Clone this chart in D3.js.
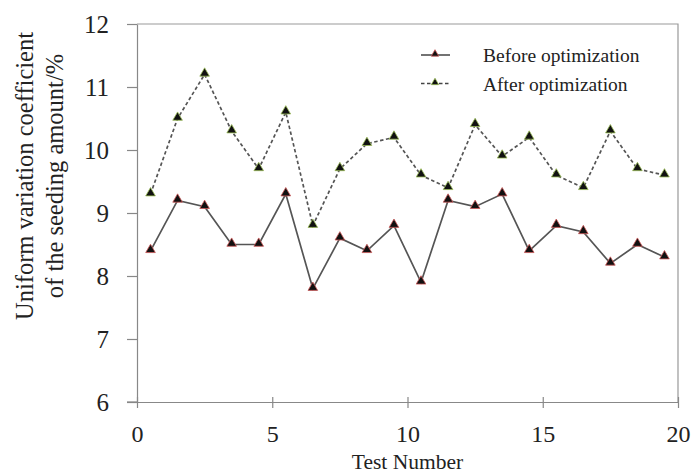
<!DOCTYPE html>
<html lang="en">
  <head>
    <meta charset="utf-8" />
    <script src="https://cdn.jsdelivr.net/npm/d3@7/dist/d3.min.js"></script>
    <style>
      body { margin: 0; background: #fff; }
      text { font-family: "Liberation Serif", "DejaVu Serif", serif; fill: #222; }
    </style>
  </head>
  <body>
    <div id="container"></div>
    <script>
      const testNumber = [0.5, 1.5, 2.5, 3.5, 4.5, 5.5, 6.5, 7.5, 8.5, 9.5, 10.5, 11.5, 12.5, 13.5, 14.5, 15.5, 16.5, 17.5, 18.5, 19.5];
      const before = [8.4, 9.2, 9.1, 8.5, 8.5, 9.3, 7.8, 8.6, 8.4, 8.8, 7.9, 9.2, 9.1, 9.3, 8.4, 8.8, 8.7, 8.2, 8.5, 8.3];
      const after = [9.3, 10.5, 11.2, 10.3, 9.7, 10.6, 8.8, 9.7, 10.1, 10.2, 9.6, 9.4, 10.4, 9.9, 10.2, 9.6, 9.4, 10.3, 9.7, 9.6];
      const xTicks = [0, 5, 10, 15, 20];
      const yTicks = [6, 7, 8, 9, 10, 11, 12];

      const width = 692, height = 474;
      const margin = { left: 137, right: 14, top: 24, bottom: 72 };
      const serif = "Liberation Serif";

      const svg = d3.select("#container").append("svg").attr("width", width).attr("height", height);

      const x = d3.scaleLinear().domain([0, 20]).range([margin.left, width - margin.right]);
      const y = d3.scaleLinear().domain([6, 12]).range([height - margin.bottom, margin.top]);

      // frame (top and right)
      svg.append("path")
        .attr("d", `M${x(0)},${y(12)}H${x(20)}V${y(6)}`)
        .attr("fill", "none").attr("stroke", "#999").attr("stroke-width", 1.2);

      // y axis
      const yAxis = svg.append("g").attr("transform", `translate(${x(0)},0)`)
        .call(d3.axisLeft(y).tickValues(yTicks).tickFormat(d3.format("d")).tickSize(10).tickPadding(18).tickSizeOuter(0));
      yAxis.attr("font-family", serif).attr("font-size", 25);
      yAxis.select(".domain").attr("stroke", "#888").attr("stroke-width", 1.2);
      yAxis.selectAll(".tick line").attr("stroke", "#888").attr("stroke-width", 1.2);
      yAxis.selectAll("text").attr("fill", "#222");

      // x axis
      const xAxis = svg.append("g").attr("transform", `translate(0,${y(6)})`)
        .call(d3.axisBottom(x).tickValues(xTicks).tickFormat(d3.format("d")).tickSize(6).tickPadding(17).tickSizeOuter(0));
      xAxis.attr("font-family", serif).attr("font-size", 24);
      xAxis.select(".domain").attr("stroke", "#888").attr("stroke-width", 1.2);
      xAxis.selectAll(".tick line").attr("stroke", "#888").attr("stroke-width", 1.2).attr("y1", -5);
      xAxis.selectAll("text").attr("fill", "#222");
      xAxis.append("line").attr("x1", x(0) - 10).attr("x2", x(0)).attr("stroke", "#888").attr("stroke-width", 1.2);

      // axis titles
      svg.append("text").attr("x", (x(0) + x(20)) / 2).attr("y", 469)
        .attr("text-anchor", "middle").attr("font-size", 21.5).text("Test Number");
      const yt = svg.append("text").attr("transform", "translate(33,176) rotate(-90)")
        .attr("text-anchor", "middle").attr("font-size", 24.5);
      yt.append("tspan").attr("x", 0).attr("dy", 0).text("Uniform variation coefficient");
      yt.append("tspan").attr("x", 0).attr("dy", 30).text("of the seeding amount/%");

      const tri = d3.symbol().type(d3.symbolTriangle).size(40);
      const line = d3.line().x((d, i) => x(testNumber[i])).y(d => y(d));

      const series = [
        { name: "Before optimization", values: before, dash: null, edge: "#c55" },
        { name: "After optimization", values: after, dash: "3.5,2.5", edge: "#9b5" }
      ];

      series.forEach(s => {
        svg.append("path").datum(s.values).attr("d", line)
          .attr("fill", "none").attr("stroke", "#555").attr("stroke-width", 1.7)
          .attr("stroke-dasharray", s.dash);
        svg.append("g").selectAll("path").data(s.values).join("path")
          .attr("d", tri)
          .attr("transform", (d, i) => `translate(${x(testNumber[i])},${y(d) - 1})`)
          .attr("fill", "#111").attr("stroke", s.edge).attr("stroke-width", 0.8);
      });

      // legend
      const legend = svg.append("g");
      series.forEach((s, i) => {
        const ly = 55 + i * 28.5;
        legend.append("line").attr("x1", 421).attr("x2", 450).attr("y1", ly).attr("y2", ly)
          .attr("stroke", "#444").attr("stroke-width", 1.5).attr("stroke-dasharray", s.dash);
        legend.append("path").attr("d", d3.symbol().type(d3.symbolTriangle).size(24))
          .attr("transform", `translate(435,${ly - 1})`)
          .attr("fill", "#111").attr("stroke", s.edge).attr("stroke-width", 0.8);
        legend.append("text").attr("x", 483).attr("y", ly + 7).attr("font-size", 19.5).text(s.name);
      });
    </script>
  </body>
</html>
